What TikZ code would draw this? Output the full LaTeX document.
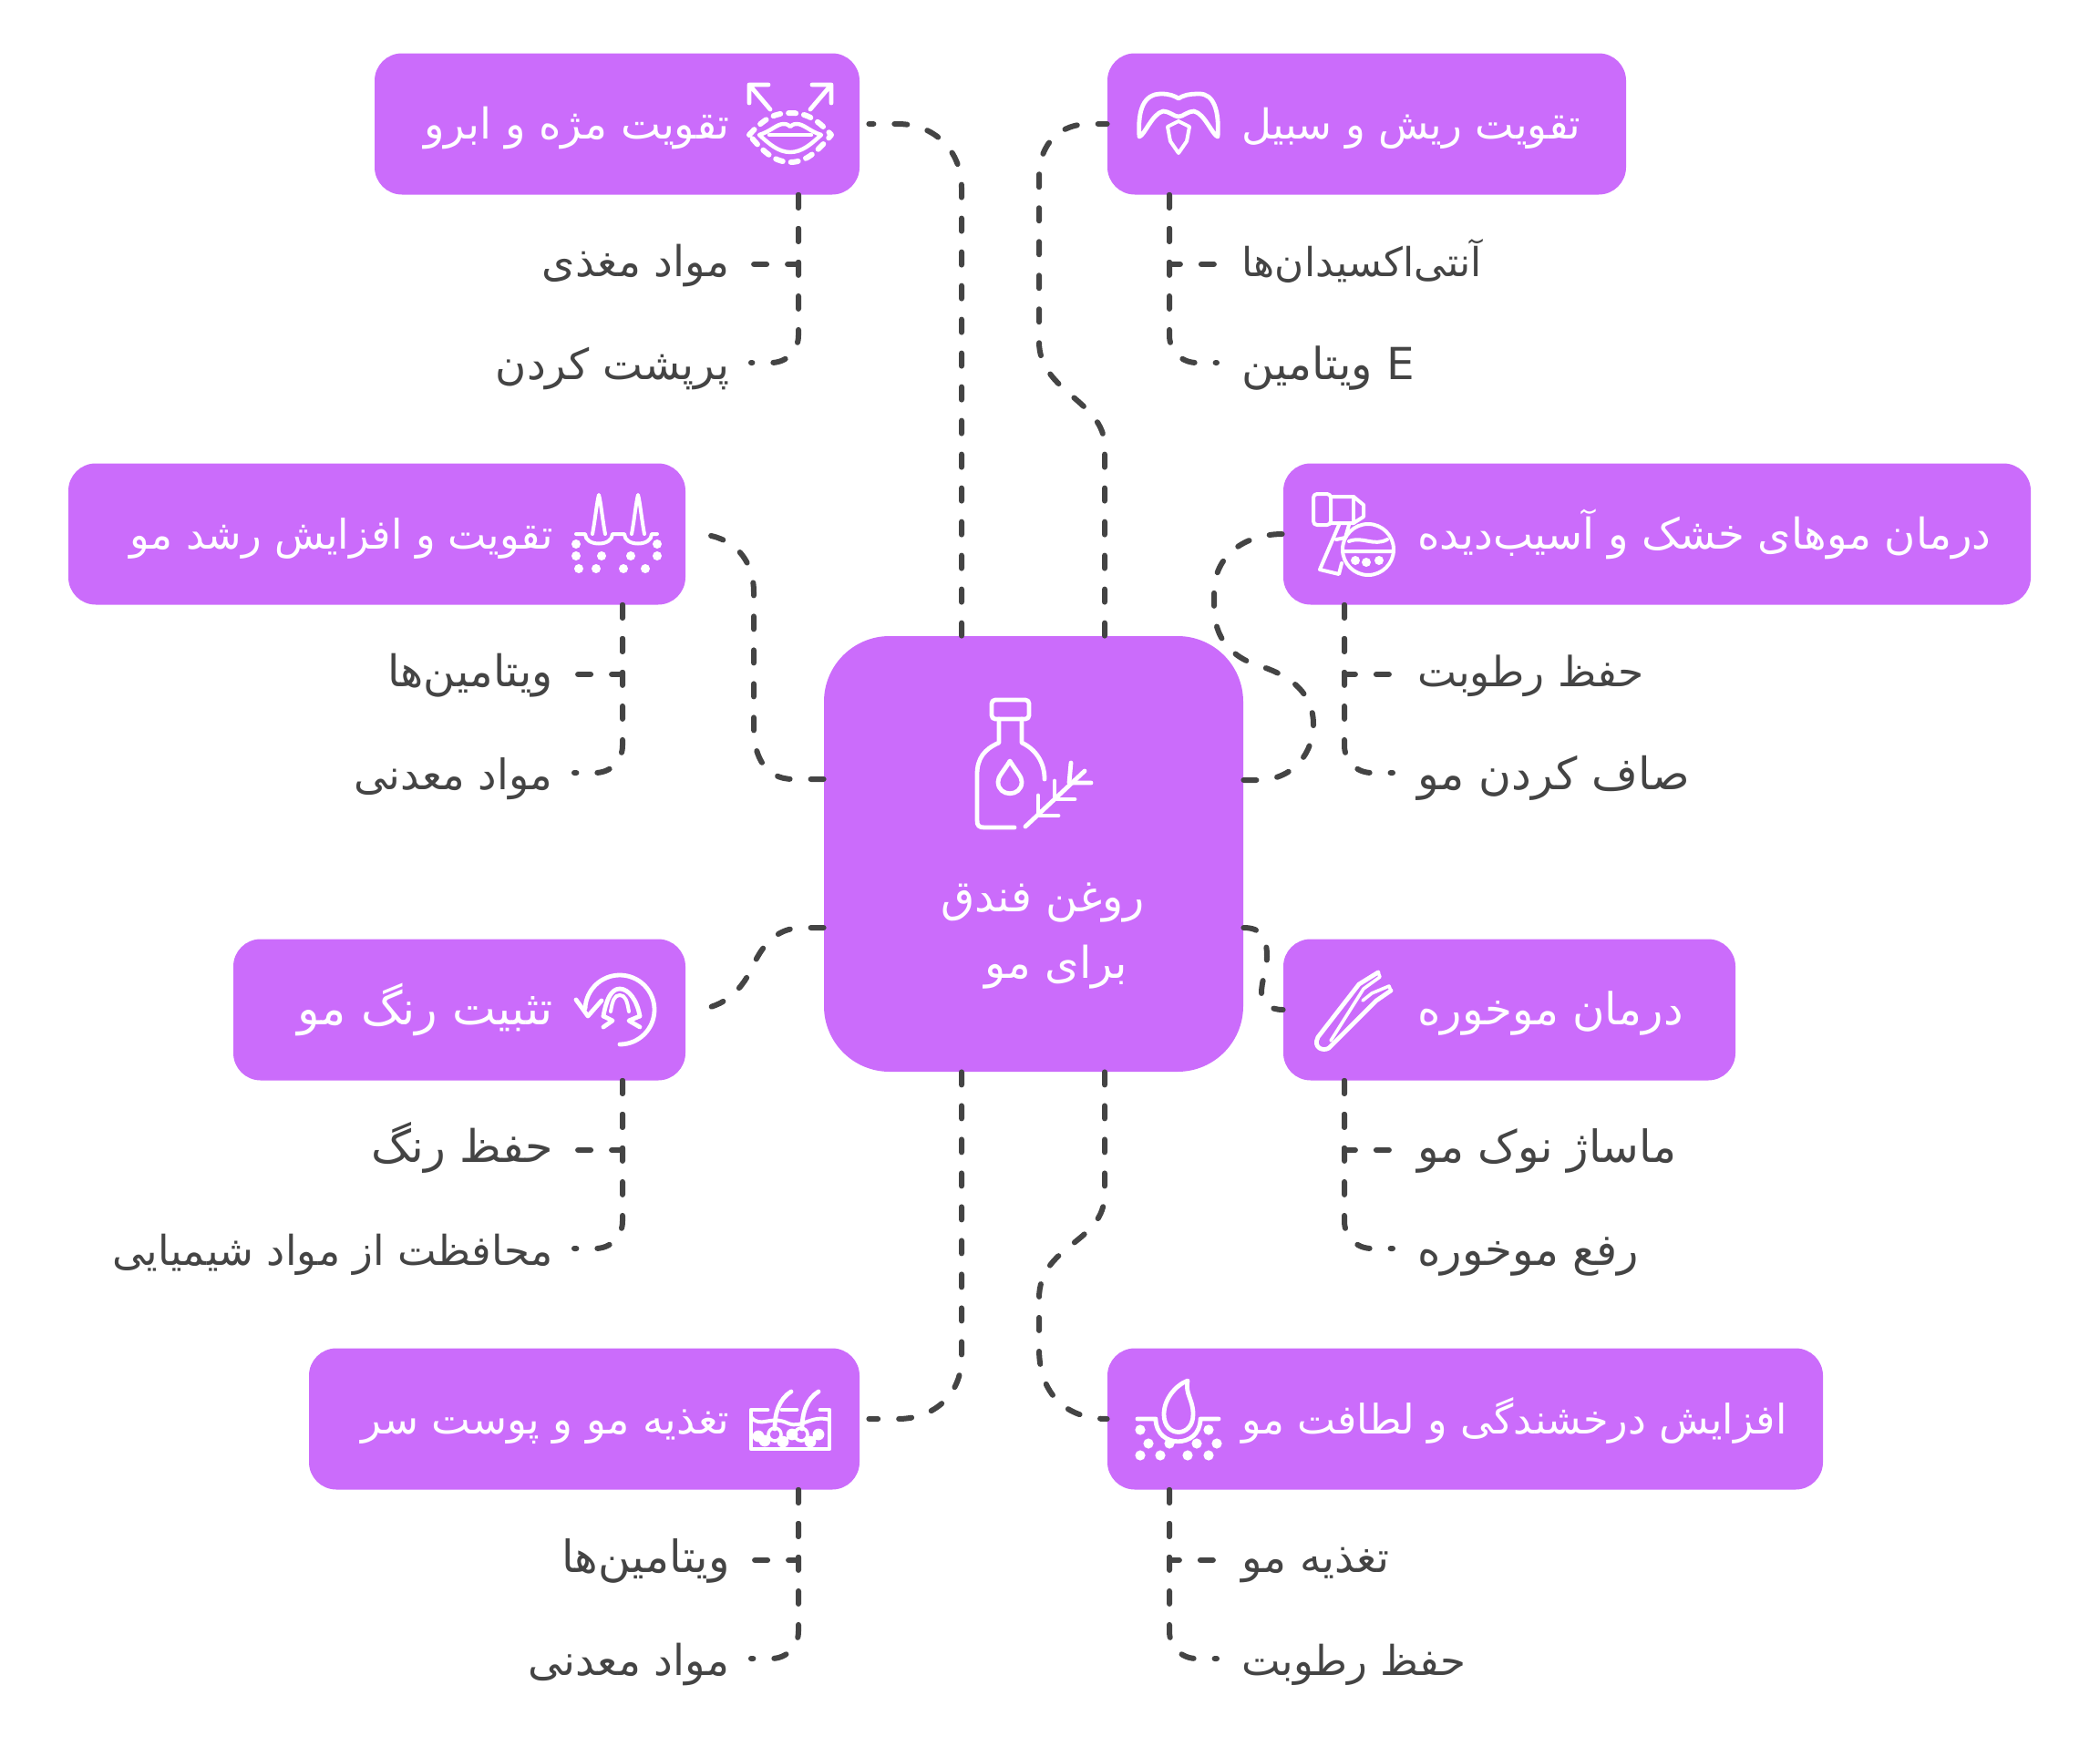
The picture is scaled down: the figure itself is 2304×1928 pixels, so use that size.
\documentclass[tikz,border=0pt]{standalone}
\usepackage{fontspec}
\usepackage{tikz}
\usetikzlibrary{positioning}
\TeXXeTstate=1
\newfontfamily\farsi[Script=Arabic]{DejaVu Sans}
\newcommand{\fa}[1]{\beginR #1\endR}
\definecolor{boxviolet}{HTML}{CB6CFB}
\definecolor{linegray}{HTML}{444444}
\tikzset{
  boxnode/.style={fill=boxviolet, rounded corners=15pt, inner sep=0pt, minimum height=77.5pt},
  mainnode/.style={fill=boxviolet, rounded corners=36pt, inner sep=0pt, minimum width=230pt, minimum height=239pt},
  fs/.style={font=\farsi\fontsize{#1}{28}\selectfont},
  headlabel/.style={text=white, fs=23.3, inner sep=0pt, text height=20pt, text depth=4pt},
  sublabel/.style={text=linegray, fs=23.3, inner ysep=0pt, inner xsep=11.5pt, text height=18pt, text depth=5pt},
  sublabelr/.style={sublabel, inner xsep=13.5pt},
  lowlabel/.style={text height=22pt, text depth=4pt},
  link/.style={draw=linegray, line width=3pt, line cap=round, dash pattern=on 7pt off 11.5pt},
  icon/.style={draw=white, line width=2.4pt, line cap=round, line join=round},
  icondot/.style={fill=white}
}
\begin{document}
\begin{tikzpicture}[x=0.5pt, y=-0.5pt]
  \useasboundingbox (0,0) rectangle (2304,1928);
  % main box
  \node (oil) [mainnode] at (1134,937) {};
  \node (oiltext) [headlabel, align=center, font=\farsi\fontsize{24}{36.5}\selectfont, text height=, text depth=] at (1144,1027)
    {\fa{روغن فندق}\\\hspace*{15pt}\fa{برای مو}};
  % upper left
  \node (lash) [boxnode, minimum width=266pt] at (677,136) {};
  \node (lashtext) [headlabel, anchor=east] at (801,136) {\fa{تقویت مژه و ابرو}};
  \node (lasha) [sublabel, anchor=east] at (824,290) {\fa{مواد مغذی}};
  \node (lashb) [sublabel, lowlabel, anchor=east] at (824,398) {\fa{پرپشت کردن}};
  % upper right
  \node (beard) [boxnode, minimum width=284.5pt] at (1499.5,136) {};
  \node (beardtext) [headlabel, fs=22.6, anchor=west] at (1362,136) {\fa{تقویت ریش و سبیل}};
  \node (bearda) [sublabelr, fs=21.9, anchor=west] at (1335,290) {\fa{آنتی‌اکسیدان‌ها}};
  \node (beardb) [sublabelr, lowlabel, fs=24.2, anchor=west] at (1335,398) {\fa{E ویتامین}};
  % second row
  \node (grow) [boxnode, minimum width=338.5pt] at (413.5,586) {};
  \node (growtext) [headlabel, fs=22.4, anchor=east] at (607,586) {\fa{تقویت و افزایش رشد مو}};
  \node (growa) [sublabel, fs=23.9, anchor=east] at (630,740) {\fa{ویتامین‌ها}};
  \node (growb) [sublabel, lowlabel, fs=23, anchor=east] at (630,848) {\fa{مواد معدنی}};
  \node (dry) [boxnode, minimum width=410pt] at (1818,586) {};
  \node (drytext) [headlabel, anchor=west] at (1555,586) {\fa{درمان موهای خشک و آسیب‌دیده}};
  \node (drya) [sublabelr, fs=22.8, anchor=west] at (1528,740) {\fa{حفظ رطوبت}};
  \node (dryb) [sublabelr, lowlabel, fs=24.5, anchor=west] at (1528,848) {\fa{صاف کردن مو}};
  % third row
  \node (tint) [boxnode, minimum width=248pt] at (504,1108) {};
  \node (tinttext) [headlabel, fs=25.4, anchor=east] at (607,1108) {\fa{تثبیت رنگ مو}};
  \node (tinta) [sublabel, fs=24.6, anchor=east] at (630,1262) {\fa{حفظ رنگ}};
  \node (tintb) [sublabel, lowlabel, fs=22.6, anchor=east] at (630,1370) {\fa{محافظت از مواد شیمیایی}};
  \node (split) [boxnode, minimum width=248pt] at (1656,1108) {};
  \node (splittext) [headlabel, fs=24.2, anchor=west] at (1555,1108) {\fa{درمان موخوره}};
  \node (splita) [sublabelr, fs=24.3, anchor=west] at (1528,1262) {\fa{ماساژ نوک مو}};
  \node (splitb) [sublabelr, lowlabel, fs=24.2, anchor=west] at (1528,1370) {\fa{رفع موخوره}};
  % lower row
  \node (scalp) [boxnode, minimum width=302pt] at (641,1557) {};
  \node (scalptext) [headlabel, fs=22.7, anchor=east] at (801,1557) {\fa{تغذیه مو و پوست سر}};
  \node (scalpa) [sublabel, fs=24.3, anchor=east] at (824,1712) {\fa{ویتامین‌ها}};
  \node (scalpb) [sublabel, lowlabel, anchor=east] at (824,1820) {\fa{مواد معدنی}};
  \node (shine) [boxnode, minimum width=392.5pt] at (1607.5,1557) {};
  \node (shinetext) [headlabel, fs=22.3, anchor=west] at (1362,1557) {\fa{افزایش درخشندگی و لطافت مو}};
  \node (shinea) [sublabelr, anchor=west] at (1335,1712) {\fa{تغذیه مو}};
  \node (shineb) [sublabelr, lowlabel, fs=22.6, anchor=west] at (1335,1820) {\fa{حفظ رطوبت}};
  % links from the main box
  \draw[link, shorten >=5pt] (1055,0 |- oil.north) -- (1055,206) .. controls (1055,165) and (1025,136) .. (985,136) -- (lash.east);
  \draw[link] (1212,0 |- oil.north) -- (1212,490) .. controls (1212,440) and (1140,430) .. (1140,375) -- (1140,195) .. controls (1140,155) and (1165,136) .. (1195,136) -- (beard.west);
  \draw[link, shorten >=5pt] (oil.west |- 0,855) -- (870,855) .. controls (840,855) and (827,830) .. (827,800) -- (827,650) .. controls (827,610) and (800,586) .. (grow.east);
  \draw[link] (oil.east |- 0,856) -- (1380,856) .. controls (1420,856) and (1441,825) .. (1441,795) .. controls (1441,760) and (1415,742) .. (1386,732) .. controls (1350,722) and (1332,700) .. (1332,665) -- (1332,650) .. controls (1332,610) and (1365,586) .. (dry.west);
  \draw[link, shorten >=3pt] (oil.west |- 0,1018) -- (880,1018) .. controls (850,1018) and (835,1040) .. (825,1062) .. controls (812,1090) and (790,1108) .. (tint.east);
  \draw[link] (oil.east |- 0,1018) .. controls (1385,1018) and (1390,1030) .. (1390,1050) .. controls (1390,1065) and (1384,1075) .. (1384,1090) .. controls (1384,1100) and (1392,1108) .. (split.west);
  \draw[link, shorten >=5pt] (1055,0 |- oil.south) -- (1055,1490) .. controls (1055,1530) and (1025,1557) .. (985,1557) -- (scalp.east);
  \draw[link] (1212,0 |- oil.south) -- (1212,1310) .. controls (1212,1365) and (1140,1365) .. (1140,1425) -- (1140,1480) .. controls (1140,1530) and (1170,1557) .. (shine.west);
  % links to the small labels
  \draw[link] (876,0 |- lash.south) -- (876,290) -- (lasha.east);
  \draw[link] (876,0 |- lash.south) -- (876,368) .. controls (876,385) and (863,398) .. (846,398) -- (lashb.east);
  \draw[link] (1283,0 |- beard.south) -- (1283,290) -- (bearda.west);
  \draw[link] (1283,0 |- beard.south) -- (1283,368) .. controls (1283,385) and (1296,398) .. (1313,398) -- (beardb.west);
  \draw[link] (683,0 |- grow.south) -- (683,740) -- (growa.east);
  \draw[link] (683,0 |- grow.south) -- (683,818) .. controls (683,835) and (670,848) .. (653,848) -- (growb.east);
  \draw[link] (1475,0 |- dry.south) -- (1475,740) -- (drya.west);
  \draw[link] (1475,0 |- dry.south) -- (1475,818) .. controls (1475,835) and (1488,848) .. (1505,848) -- (dryb.west);
  \draw[link] (683,0 |- tint.south) -- (683,1262) -- (tinta.east);
  \draw[link] (683,0 |- tint.south) -- (683,1340) .. controls (683,1357) and (670,1370) .. (653,1370) -- (tintb.east);
  \draw[link] (1475,0 |- split.south) -- (1475,1262) -- (splita.west);
  \draw[link] (1475,0 |- split.south) -- (1475,1340) .. controls (1475,1357) and (1488,1370) .. (1505,1370) -- (splitb.west);
  \draw[link] (876,0 |- scalp.south) -- (876,1712) -- (scalpa.east);
  \draw[link] (876,0 |- scalp.south) -- (876,1790) .. controls (876,1807) and (863,1820) .. (846,1820) -- (scalpb.east);
  \draw[link] (1283,0 |- shine.south) -- (1283,1712) -- (shinea.west);
  \draw[link] (1283,0 |- shine.south) -- (1283,1790) .. controls (1283,1807) and (1296,1820) .. (1313,1820) -- (shineb.west);
  % bottle
  \draw[icon, rounded corners=2pt] (1088,768) rectangle (1129,789);
  \draw[icon] (1096,789) -- (1096,815) .. controls (1080,822) and (1072,832) .. (1072,850) -- (1072,900) .. controls (1072,906) and (1074,908) .. (1080,908) -- (1113,908);
  \draw[icon] (1121,789) -- (1121,815) .. controls (1136,822) and (1146,836) .. (1146,855);
  \draw[icon] (1108,835) .. controls (1100,848) and (1095,852) .. (1095,858) .. controls (1095,875) and (1121,875) .. (1121,858) .. controls (1121,852) and (1116,848) .. (1108,835) -- cycle;
  \draw[icon] (1125,907) -- (1190,846);
  \draw[icon] (1139,873) -- (1139,895) -- (1161,895);
  \draw[icon] (1157,857) -- (1157,877) -- (1179,877);
  \draw[icon] (1175,837) -- (1173,859) -- (1197,859);
  % lips
  \draw[icon] (845,120) -- (822,93) (822,113) -- (822,93) -- (843,93);
  \draw[icon] (889,120) -- (912,93) (912,113) -- (912,93) -- (891,93);
  \draw[icon, line width=3pt, dash pattern=on 4pt off 4.5pt] (822,148) .. controls (840,128) and (852,124) .. (867,124) .. controls (882,124) and (894,128) .. (912,148) .. controls (898,165) and (885,178) .. (867,178) .. controls (849,178) and (836,165) .. (822,148) -- cycle;
  \draw[icon, line width=2.2pt] (833,148) .. controls (846,144) and (852,136) .. (860,136) .. controls (864,136) and (866,138) .. (867,139) .. controls (868,138) and (870,136) .. (874,136) .. controls (882,136) and (888,144) .. (901,148) .. controls (890,158) and (880,167) .. (867,167) .. controls (854,167) and (844,158) .. (833,148) -- cycle;
  \draw[icon, line width=2.2pt] (844,148) -- (890,148);
  % moustache
  \draw[icon] (1250,150) .. controls (1248,120) and (1255,103) .. (1274,103) .. controls (1283,103) and (1288,105) .. (1293,108) .. controls (1298,105) and (1303,103) .. (1316,103) .. controls (1331,103) and (1338,120) .. (1336,150) .. controls (1330,148) and (1322,125) .. (1310,122) .. controls (1303,122) and (1298,128) .. (1293,128) .. controls (1288,128) and (1283,122) .. (1276,122) .. controls (1264,125) and (1256,148) .. (1250,150) -- cycle;
  \draw[icon, line width=2pt] (1281,139) -- (1293,133) -- (1305,139) -- (1302,155) -- (1293,168) -- (1284,155) -- cycle;
  % hair growth
  \draw[icon, line width=2pt] (650,586) .. controls (653,570) and (655,550) .. (657,543) .. controls (659,550) and (661,570) .. (664,586);
  \draw[icon, line width=2pt] (693,586) .. controls (696,570) and (698,550) .. (700,543) .. controls (702,550) and (704,570) .. (707,586);
  \draw[icon, line width=2pt] (632,586) -- (642,586) .. controls (642,600) and (672,600) .. (672,586) -- (685,586) .. controls (685,600) and (715,600) .. (715,586) -- (721,586);
  \fill[icondot] (632,597) circle[radius=2.5pt] (632,610) circle[radius=2.5pt] (660,610) circle[radius=2.5pt] (692,610) circle[radius=2.5pt] (721,610) circle[radius=2.5pt] (721,597) circle[radius=2.5pt] (635,624) circle[radius=2.5pt] (654,624) circle[radius=2.5pt] (684,624) circle[radius=2.5pt] (708,624) circle[radius=2.5pt];
  % dryer
  \draw[icon, line width=2pt, rounded corners=2pt] (1441,542) rectangle (1460,576);
  \draw[icon, line width=2pt] (1460,545) -- (1485,545) -- (1496,554) -- (1496,567) -- (1485,574) -- (1460,574);
  \draw[icon, line width=2pt] (1485,545) -- (1485,574);
  \draw[icon, line width=2pt] (1469,576) -- (1448,625) -- (1469,630) -- (1472,618);
  \draw[icon, line width=2pt] (1480,576) -- (1476,590) -- (1466,592);
  \draw[icon, line width=2pt] (1501,603) circle[radius=14pt];
  \draw[icon, line width=2pt] (1475,605) -- (1527,605) (1480,594) .. controls (1495,588) and (1507,600) .. (1522,592);
  \fill[icondot] (1487,615) circle[radius=2.5pt] (1499,617) circle[radius=2.5pt] (1513,615) circle[radius=2.5pt];
  % colour arrow
  \draw[icon] (680,1146) arc[start angle=-90, end angle=178, radius=19pt];
  \draw[icon] (632,1097) -- (645,1115) -- (660,1098);
  \draw[icon] (662,1115) .. controls (665,1098) and (670,1085) .. (680,1085) .. controls (690,1085) and (699,1098) .. (702,1115);
  \draw[icon, line width=2pt] (670,1110) .. controls (672,1098) and (674,1092) .. (680,1092) .. controls (686,1092) and (688,1098) .. (690,1110);
  \draw[icon] (662,1115) -- (672,1120) -- (662,1127) (702,1115) -- (690,1120) -- (702,1127);
  % tweezers
  \draw[icon] (1512,1067) -- (1491,1080) -- (1446,1138) .. controls (1440,1150) and (1452,1154) .. (1458,1150) -- (1510,1098) -- (1526,1087);
  \draw[icon, line width=1.8pt] (1512,1067) -- (1514,1072) -- (1496,1085) -- (1460,1142) (1526,1087) -- (1524,1082) -- (1505,1090) -- (1495,1098);
  % scalp
  \draw[icon] (868,1527) .. controls (855,1535) and (850,1550) .. (850,1568);
  \draw[icon] (898,1527) .. controls (885,1535) and (880,1550) .. (880,1568);
  \draw[icon] (842,1547) -- (824,1547) -- (824,1590) -- (910,1590) -- (910,1547) -- (900,1547) (858,1547) -- (874,1547);
  \draw[icon, line width=2pt] (824,1555) .. controls (835,1568) and (845,1552) .. (865,1562) .. controls (880,1568) and (890,1552) .. (910,1558);
  \draw[icon, line width=1.8pt] (850,1574) circle[radius=3.5pt] (879,1574) circle[radius=3.5pt];
  \fill[icondot] (832,1576) circle[radius=3.2pt] (839,1581) circle[radius=3.2pt] (859,1582) circle[radius=3.2pt] (869,1574) circle[radius=3.2pt] (889,1582) circle[radius=3.2pt] (898,1574) circle[radius=3.2pt];
  % drop
  \draw[icon] (1303,1515) .. controls (1290,1520) and (1277,1535) .. (1277,1552) .. controls (1277,1578) and (1309,1578) .. (1309,1552) .. controls (1309,1535) and (1300,1530) .. (1303,1515) -- cycle;
  \draw[icon] (1248,1557) -- (1268,1557) .. controls (1268,1590) and (1317,1590) .. (1317,1557) -- (1337,1557);
  \fill[icondot] (1251,1569) circle[radius=2.8pt] (1326,1569) circle[radius=2.8pt] (1260,1584) circle[radius=2.8pt] (1283,1584) circle[radius=2.8pt] (1313,1584) circle[radius=2.8pt] (1335,1584) circle[radius=2.8pt] (1251,1597) circle[radius=2.8pt] (1273,1597) circle[radius=2.8pt] (1303,1597) circle[radius=2.8pt] (1326,1597) circle[radius=2.8pt];
\end{tikzpicture}
\end{document}
